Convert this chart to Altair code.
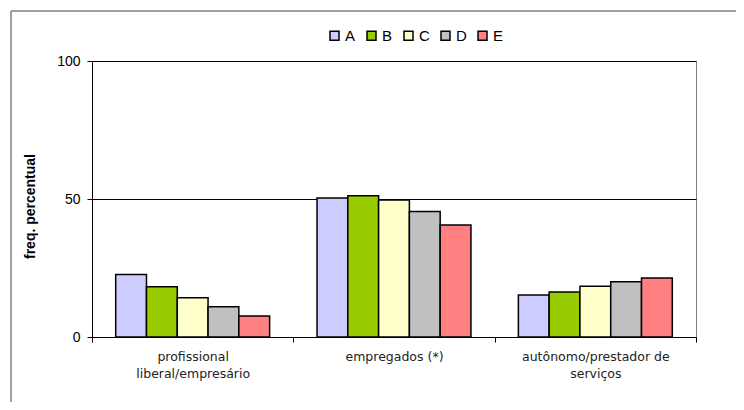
import altair as alt
import pandas as pd

categories = ["profissional|liberal/empresário", "empregados (*)", "autônomo/prestador de|serviços"]
series = ["A", "B", "C", "D", "E"]
values_A = [22.6, 50.4, 15.2]
values_B = [18.2, 51.2, 16.3]
values_C = [14.2, 49.6, 18.4]
values_D = [11.0, 45.5, 20.0]
values_E = [7.6, 40.6, 21.4]
colors = ["#CCCCFF", "#99CC00", "#FFFFCC", "#C0C0C0", "#FF8080"]
y_ticks = [0, 50, 100]

rows = []
for s, vals in zip(series, [values_A, values_B, values_C, values_D, values_E]):
    for c, v in zip(categories, vals):
        rows.append({"cat": c, "serie": s, "val": v})
df = pd.DataFrame(rows)

bars = alt.Chart(df).mark_bar(stroke="black", strokeWidth=1.5).encode(
    x=alt.X(
        "cat:N", sort=categories,
        scale=alt.Scale(paddingInner=0, paddingOuter=0),
        axis=alt.Axis(
            title=None, labelExpr="split(datum.label, '|')", labelAngle=0,
            tickBand="extent", domainColor="black", tickColor="black", tickSize=5,
            labelFont="DejaVu Sans", labelFontSize=12.5, labelLineHeight=17, labelPadding=8,
            labelColor="#222222", grid=False, labelBaseline="top",
        ),
    ),
    xOffset=alt.XOffset("serie:N", sort=series,
                        scale=alt.Scale(paddingInner=0, paddingOuter=0.77)),
    y=alt.Y(
        "val:Q", scale=alt.Scale(domain=[0, 100]),
        axis=alt.Axis(
            values=y_ticks, title="freq. percentual", grid=True, gridColor="black",
            gridOpacity=1, domainColor="black", tickColor="black", tickSize=5,
            labelFont="Liberation Sans", labelFontSize=14, labelPadding=7,
            labelColor="black", titleFont="Liberation Sans", titleFontSize=14,
            titleFontWeight="bold", titleColor="black", titleX=-55, titleY=145,
        ),
    ),
    color=alt.Color(
        "serie:N", sort=series,
        scale=alt.Scale(domain=series, range=colors),
        legend=alt.Legend(
            orient="none", legendX=235, legendY=-33, direction="horizontal",
            title=None, symbolType="square", symbolSize=81,
            symbolStrokeColor="black", symbolStrokeWidth=1.5, symbolOpacity=1,
            labelFont="Liberation Sans", labelFontSize=15, labelOffset=3,
            columnPadding=8, padding=0, labelColor="black",
        ),
    ),
)

frame_top = alt.Chart(alt.Data(values=[{}])).mark_rule(color="#404040", strokeWidth=1).encode(
    x=alt.value(-81), x2=alt.value(700), y=alt.value(-50)
)
frame_left = alt.Chart(alt.Data(values=[{}])).mark_rule(color="#808080", strokeWidth=1.5).encode(
    x=alt.value(-81), y=alt.value(-50), y2=alt.value(400)
)

chart = alt.layer(bars, frame_top, frame_left).properties(
    width=604, height=276,
    autosize=alt.AutoSizeParams(type="none"),
    padding={"left": 84, "top": 53, "right": 40, "bottom": 65},
    background="white",
).configure_view(stroke="#808080")

chart.save("out.html", embed_options={"renderer": "svg", "actions": False})
